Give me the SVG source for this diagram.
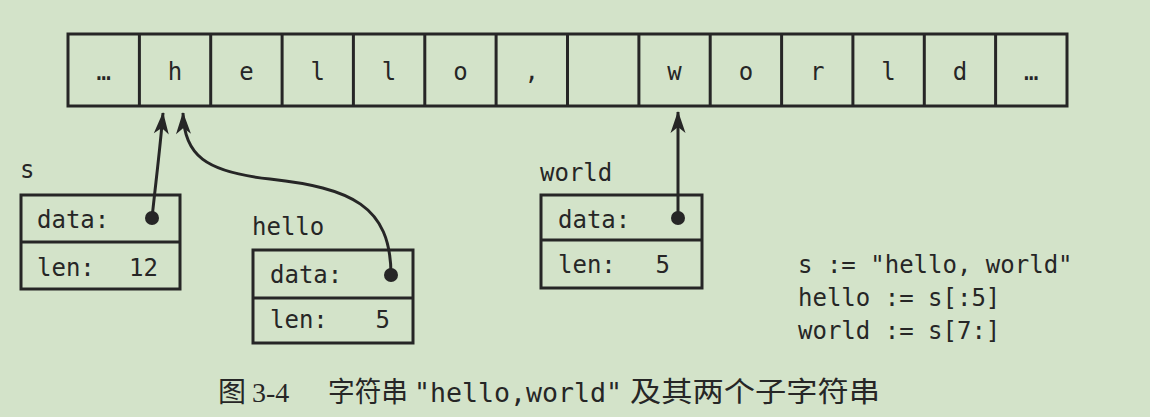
<svg xmlns="http://www.w3.org/2000/svg" width="1150" height="417" viewBox="0 0 1150 417">
<style>
.bg{fill:#d3e3c9}
.box{fill:none;stroke:#262626;stroke-width:3}
.t{font-family:"DejaVu Sans Mono","Liberation Mono",monospace;font-size:24px;fill:#262626}
.c{text-anchor:middle}
.e{text-anchor:end}
.conn{fill:none;stroke:#262626;stroke-width:3}
.dot{fill:#262626}
.cap{font-size:28px;fill:#262626}
.cj{font-family:"Noto Sans CJK SC","Noto Sans",sans-serif}
.sf{font-family:"Liberation Serif",serif}
.mo{font-family:"DejaVu Sans Mono","Liberation Mono",monospace;font-size:26px}
</style>
<defs>
<marker id="ah" viewBox="-22 -8 24 16" refX="0" refY="0" markerWidth="24" markerHeight="16" markerUnits="userSpaceOnUse" orient="auto">
<path d="M1,0 L-21,-7.5 L-15,0 L-21,7.5 Z" fill="#262626"/>
</marker>
</defs>
<rect class="bg" x="0" y="0" width="1150" height="417"/>

<g id="array">
<rect class="box" x="68" y="34" width="999" height="72"/>
<path class="box" d="M139.4,34V106M210.7,34V106M282.1,34V106M353.4,34V106M424.8,34V106M496.1,34V106M567.5,34V106M638.9,34V106M710.2,34V106M781.6,34V106M852.9,34V106M924.3,34V106M995.6,34V106"/>
<text class="t c" x="103.7" y="80">…</text>
<text class="t c" x="175.1" y="80">h</text>
<text class="t c" x="246.4" y="80">e</text>
<text class="t c" x="317.8" y="80">l</text>
<text class="t c" x="389.1" y="80">l</text>
<text class="t c" x="460.5" y="80">o</text>
<text class="t c" x="531.8" y="80">,</text>
<text class="t c" x="674.5" y="80">w</text>
<text class="t c" x="745.9" y="80">o</text>
<text class="t c" x="817.2" y="80">r</text>
<text class="t c" x="888.6" y="80">l</text>
<text class="t c" x="959.9" y="80">d</text>
<text class="t c" x="1031.3" y="80">…</text>
</g>

<g id="s">
<text class="t" x="20" y="178">s</text>
<rect class="box" x="21" y="195" width="159" height="94"/>
<line class="box" x1="21" y1="242" x2="180" y2="242"/>
<text class="t" x="37" y="228">data:</text>
<text class="t" x="37" y="276">len:</text>
<text class="t e" x="158" y="276">12</text>
</g>

<g id="hello">
<text class="t" x="252" y="235">hello</text>
<rect class="box" x="253" y="250" width="160" height="93"/>
<line class="box" x1="253" y1="298" x2="413" y2="298"/>
<text class="t" x="270" y="283">data:</text>
<text class="t" x="270" y="328">len:</text>
<text class="t e" x="390" y="328">5</text>
</g>

<g id="world">
<text class="t" x="540" y="181">world</text>
<rect class="box" x="541" y="195" width="161" height="93"/>
<line class="box" x1="541" y1="240" x2="702" y2="240"/>
<text class="t" x="558" y="228">data:</text>
<text class="t" x="558" y="273">len:</text>
<text class="t e" x="670" y="273">5</text>
</g>

<g id="connectors">
<path class="conn" d="M152,218 C156,180 160,150 163,113" marker-end="url(#ah)"/>
<path class="conn" d="M391,275 C391,205 350,188 270,179 C205,172 184,155 183,113" marker-end="url(#ah)"/>
<path class="conn" d="M678,218 L678,112" stroke-width="2.5" marker-end="url(#ah)"/>
<circle class="dot" cx="152" cy="218" r="7"/>
<circle class="dot" cx="391" cy="275" r="7"/>
<circle class="dot" cx="678" cy="218" r="7"/>
</g>

<g id="code">
<text class="t" x="798" y="273">s := "hello, world"</text>
<text class="t" x="798" y="306">hello := s[:5]</text>
<text class="t" x="798" y="339">world := s[7:]</text>
</g>

<g id="caption">
<text class="cap cj" x="218" y="402">图</text>
<text class="cap sf" x="252" y="402">3-4</text>
<text class="cap cj" x="328" y="402" textLength="80" lengthAdjust="spacingAndGlyphs">字符串</text>
<text class="cap mo" x="414" y="402" textLength="208" lengthAdjust="spacingAndGlyphs">"hello,world"</text>
<text class="cap cj" x="630" y="402" textLength="250" lengthAdjust="spacingAndGlyphs">及其两个子字符串</text>
</g>
</svg>
